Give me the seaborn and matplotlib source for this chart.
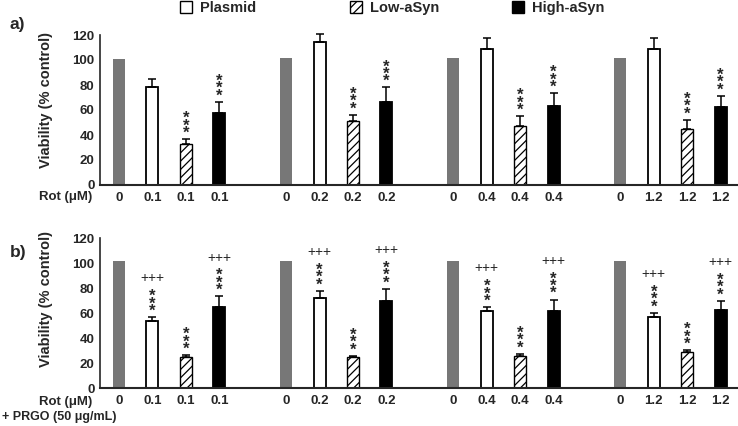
import numpy as np
import pandas as pd
import matplotlib
matplotlib.use("Agg")
import matplotlib.pyplot as plt
from matplotlib.patches import Patch
import seaborn as sns

rot_doses = ["0.1", "0.2", "0.4", "1.2"]
conditions = ["Control", "Plasmid", "Low-aSyn", "High-aSyn"]

# panel a) rotenone alone
a_control = [101, 102, 102, 102]
a_plasmid = [78, 114.5, 108.5, 109]
a_plasmid_err = [6.5, 6, 9.5, 8.6]
a_low = [32.5, 51, 47, 44.5]
a_low_err = [4, 5, 8, 7.5]
a_high = [57.5, 66, 63.5, 62]
a_high_err = [9, 12, 10, 9.5]

# panel b) rotenone + PRGO
b_control = [101.5, 101.5, 101.5, 101.5]
b_plasmid = [54, 72, 61.5, 57]
b_plasmid_err = [3, 6, 3.5, 3.5]
b_low = [25, 25, 26, 29]
b_low_err = [1.5, 1, 1.5, 1.5]
b_high = [65, 70, 62, 62.5]
b_high_err = [8.5, 9.5, 9, 7.5]

a_star_conds = ["Low-aSyn", "High-aSyn"]
a_plus_conds = []
b_star_conds = ["Plasmid", "Low-aSyn", "High-aSyn"]
b_plus_conds = ["Plasmid", "High-aSyn"]

palette = {"Control": "#777777", "Plasmid": "white",
           "Low-aSyn": "white", "High-aSyn": "black"}


def make_frame(control, plasmid, plasmid_err, low, low_err, high, high_err):
    vals = {"Control": (control, [0, 0, 0, 0]),
            "Plasmid": (plasmid, plasmid_err),
            "Low-aSyn": (low, low_err),
            "High-aSyn": (high, high_err)}
    rows = []
    for g, dose in enumerate(rot_doses):
        for m, cond in enumerate(conditions):
            v, e = vals[cond]
            rows.append({"slot": 5 * g + m, "cond": cond,
                         "dose": "0" if cond == "Control" else dose,
                         "value": v[g], "err": e[g]})
    return pd.DataFrame(rows)


def draw_panel(ax, df, star_conds, plus_conds):
    sns.barplot(data=df, x="slot", y="value", hue="cond", hue_order=conditions,
                palette=palette, native_scale=True, dodge=False, width=0.36,
                errorbar=None, saturation=1, legend=False, ax=ax)
    for p in ax.patches:
        m = int(round(p.get_x() + p.get_width() / 2)) % 5
        if m == 0:
            p.set_edgecolor("#777777")
            p.set_linewidth(0)
        elif m == 2:
            p.set_hatch("////")
            p.set_edgecolor("black")
            p.set_linewidth(1.0)
        else:
            p.set_edgecolor("black")
            p.set_linewidth(1.3)

    e = df[df.err > 0]
    eb = ax.errorbar(e.slot, e.value, yerr=[np.zeros(len(e)), e.err], fmt="none",
                     ecolor="black", elinewidth=1.1, capsize=2.7, capthick=1.1, zorder=3)
    for art in eb.lines[1] + eb.lines[2]:
        art.set_clip_on(False)

    for _, r in df.iterrows():
        top = r.value + r.err
        if r.cond in star_conds:
            # vertical stack of three asterisks just above the error bar
            ax.annotate("*\n*\n*", xy=(r.slot, top), xytext=(0, -1.2),
                        textcoords="offset points", ha="center", va="bottom",
                        fontsize=12, fontweight="bold", linespacing=0.37)
        if r.cond in plus_conds:
            ax.text(r.slot, top + 31, "+++", ha="center", va="center",
                    fontsize=10, fontweight="normal")

    ax.set_xticks(df.slot)
    ax.set_xticklabels(df.dose)
    ax.set_xlim(-0.57, 18.52)
    ax.set_ylim(0, 120)
    ax.set_yticks(range(0, 121, 20))
    ax.set_xlabel("")
    ax.set_ylabel("Viability (% control)", fontsize=10.5, fontweight="bold")
    ax.tick_params(axis="x", length=0, pad=5, labelsize=9.5)
    ax.tick_params(axis="y", length=3, width=1.2, pad=1, labelsize=9.5)
    for t in ax.get_xticklabels() + ax.get_yticklabels():
        t.set_fontweight("bold")
    sns.despine(ax=ax)
    ax.spines["left"].set_linewidth(1.2)
    ax.spines["bottom"].set_linewidth(1.5)


sns.set_style("white")
plt.rcParams["font.family"] = ["Liberation Sans", "DejaVu Sans"]
plt.rcParams["hatch.linewidth"] = 0.9

fig = plt.figure(figsize=(7.38, 4.26), dpi=100)
W, H = 738, 426
ax_a = fig.add_axes([100 / W, 1 - 185 / H, 638 / W, 150 / H])
ax_b = fig.add_axes([100 / W, 1 - 388.3 / H, 638 / W, 150 / H])

df_a = make_frame(a_control, a_plasmid, a_plasmid_err, a_low, a_low_err, a_high, a_high_err)
df_b = make_frame(b_control, b_plasmid, b_plasmid_err, b_low, b_low_err, b_high, b_high_err)
draw_panel(ax_a, df_a, a_star_conds, a_plus_conds)
draw_panel(ax_b, df_b, b_star_conds, b_plus_conds)
ax_a.yaxis.set_label_coords(-0.074, 0.567)
ax_b.yaxis.set_label_coords(-0.074, 0.595)

fig.text(10 / W, 1 - 24 / H, "a)", fontsize=12.5, fontweight="bold", va="center")
fig.text(10 / W, 1 - 252 / H, "b)", fontsize=12.5, fontweight="bold", va="center")
fig.text(92 / W, 1 - 197 / H, "Rot (\u03bcM)", fontsize=9.5, fontweight="bold",
         ha="right", va="center")
fig.text(92 / W, 1 - 402 / H, "Rot (\u03bcM)", fontsize=9.5, fontweight="bold",
         ha="right", va="center")
fig.text(2 / W, 1 - 417 / H, "+ PRGO (50 \u03bcg/mL)", fontsize=9, fontweight="bold",
         ha="left", va="center")

legend_items = [("Plasmid", dict(facecolor="white", edgecolor="black", linewidth=1.0), 180),
                ("Low-aSyn", dict(facecolor="white", edgecolor="black", hatch="////", linewidth=1.0), 350),
                ("High-aSyn", dict(facecolor="black", edgecolor="black"), 512)]
for label, kw, x0 in legend_items:
    fig.legend(handles=[Patch(**kw)], labels=[label], loc="center left",
               bbox_to_anchor=(x0 / W, 1 - 8 / H), frameon=False, borderpad=0,
               borderaxespad=0, handlelength=0.85, handleheight=0.85,
               handletextpad=0.5, prop={"weight": "bold", "size": 10.5})

fig.savefig("out.png", dpi=100)
